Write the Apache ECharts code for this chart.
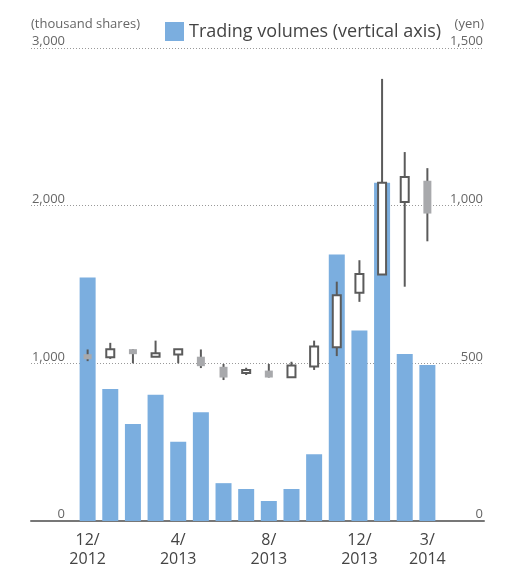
<!DOCTYPE html>
<html>
<head>
<meta charset="utf-8">
<script src="https://cdn.jsdelivr.net/npm/echarts@6/dist/echarts.min.js"></script>
<style>
  html, body { margin: 0; padding: 0; background: #fff; }
  #chart { width: 519px; height: 569px; }
</style>
</head>
<body>
<div id="chart"></div>
<script>
// months, 12/2012 .. 3/2014 (only some are labelled)
const months = ['12/\n2012', '', '', '', '4/\n2013', '', '', '', '8/\n2013', '', '', '', '12/\n2013', '', '', '3/\n2014'];

// trading volumes (thousand shares)
const volumes = [1545, 838, 615, 800, 502, 690, 240, 203, 127, 203, 424, 1690, 1209, 2145, 1059, 989];

// share price (yen): open, close, low, high
const priceOpen  = [529, 519, 545, 521, 528, 521, 489, 469, 477, 456, 490, 551, 724, 782, 1012, 1079];
const priceClose = [513, 545, 529, 532, 545, 491, 455, 479, 455, 493, 553, 716, 783, 1073, 1091, 975];
const priceLow   = [507, 514, 500, 521, 500, 485, 447, 463, 455, 456, 479, 523, 695, 782, 743, 887];
const priceHigh  = [544, 565, 545, 572, 545, 544, 498, 486, 498, 505, 572, 759, 827, 1402, 1170, 1119];

const leftTicks = ['0', '1,000', '2,000', '3,000'];
const rightTicks = ['0', '500', '1,000', '1,500'];

// two empty slots each side so the dotted lines run past the bars
const PAD = 2;
let cats = [];
for (let i = 0; i < PAD; i++) cats.push('');
cats = cats.concat(months);
for (let i = 0; i < PAD; i++) cats.push('');

let volData = [];
for (let i = 0; i < PAD; i++) volData.push('-');
volData = volData.concat(volumes);

let candleData = [];
for (let i = 0; i < months.length; i++) {
    candleData.push([i + PAD, priceOpen[i], priceClose[i], priceLow[i], priceHigh[i]]);
}

const FONT = '"Open Sans", "Noto Sans", sans-serif';

function renderCandle(params, api) {
    let x = api.value(0);
    let open = api.value(1), close = api.value(2), low = api.value(3), high = api.value(4);
    let pOpen = api.coord([x, open]);
    let pClose = api.coord([x, close]);
    let pLow = api.coord([x, low]);
    let pHigh = api.coord([x, high]);
    let w = 8;
    let up = close >= open;
    let top = Math.min(pOpen[1], pClose[1]);
    let h = Math.max(Math.abs(pOpen[1] - pClose[1]), 2);
    return {
        type: 'group',
        children: [
            {
                type: 'line',
                shape: {x1: pHigh[0], y1: pHigh[1], x2: pLow[0], y2: pLow[1]},
                style: {stroke: '#5b5b5b', lineWidth: 2}
            },
            {
                type: 'rect',
                shape: {x: pOpen[0] - w / 2, y: top, width: w, height: h},
                style: up
                    ? {fill: '#fff', stroke: '#5b5b5b', lineWidth: 2}
                    : {fill: '#a8a9ac', stroke: null}
            }
        ]
    };
}

let myChart = echarts.init(document.getElementById('chart'));

let option = {
    animation: false,
    backgroundColor: '#fff',
    textStyle: {fontFamily: FONT},
    legend: {
        data: ['Trading volumes (vertical axis)'],
        left: 160,
        top: 17,
        itemWidth: 19,
        itemHeight: 19,
        itemGap: 5,
        icon: 'rect',
        textStyle: {fontSize: 18, color: '#444', fontFamily: FONT}
    },
    grid: {left: 31, right: 35, top: 48, bottom: 46},
    xAxis: {
        type: 'category',
        data: cats,
        axisLine: {lineStyle: {color: '#777', width: 2}},
        axisTick: {show: false},
        axisLabel: {
            interval: 0,
            color: '#444',
            fontSize: 16,
            lineHeight: 19,
            margin: 10,
            fontFamily: FONT
        }
    },
    yAxis: [
        {
            type: 'value',
            min: 0,
            max: 3000,
            interval: 1000,
            name: '(thousand shares)',
            nameLocation: 'end',
            nameGap: 17,
            nameTextStyle: {align: 'left', color: '#666', fontSize: 13, fontFamily: FONT},
            axisLine: {show: false},
            axisTick: {show: false},
            axisLabel: {
                inside: true,
                margin: 34,
                align: 'right',
                verticalAlign: 'bottom',
                color: '#666',
                fontSize: 13,
                fontFamily: FONT,
                formatter: function (v) { return leftTicks[v / 1000]; }
            },
            splitLine: {lineStyle: {color: '#999', type: [1, 2], width: 1}}
        },
        {
            type: 'value',
            min: 0,
            max: 1500,
            interval: 500,
            name: '(yen)',
            nameLocation: 'end',
            nameGap: 17,
            nameTextStyle: {align: 'right', color: '#666', fontSize: 13, fontFamily: FONT},
            axisLine: {show: false},
            axisTick: {show: false},
            axisLabel: {
                inside: true,
                margin: 1,
                align: 'right',
                verticalAlign: 'bottom',
                color: '#666',
                fontSize: 13,
                fontFamily: FONT,
                formatter: function (v) { return rightTicks[v / 500]; }
            },
            splitLine: {show: false}
        }
    ],
    series: [
        {
            name: 'Trading volumes (vertical axis)',
            type: 'bar',
            yAxisIndex: 0,
            barWidth: 16,
            itemStyle: {color: '#7baedf'},
            data: volData
        },
        {
            name: 'Share price',
            type: 'custom',
            yAxisIndex: 1,
            renderItem: renderCandle,
            encode: {x: 0, y: [1, 2, 3, 4]},
            data: candleData,
            z: 3
        }
    ]
};

myChart.setOption(option);
</script>
</body>
</html>
